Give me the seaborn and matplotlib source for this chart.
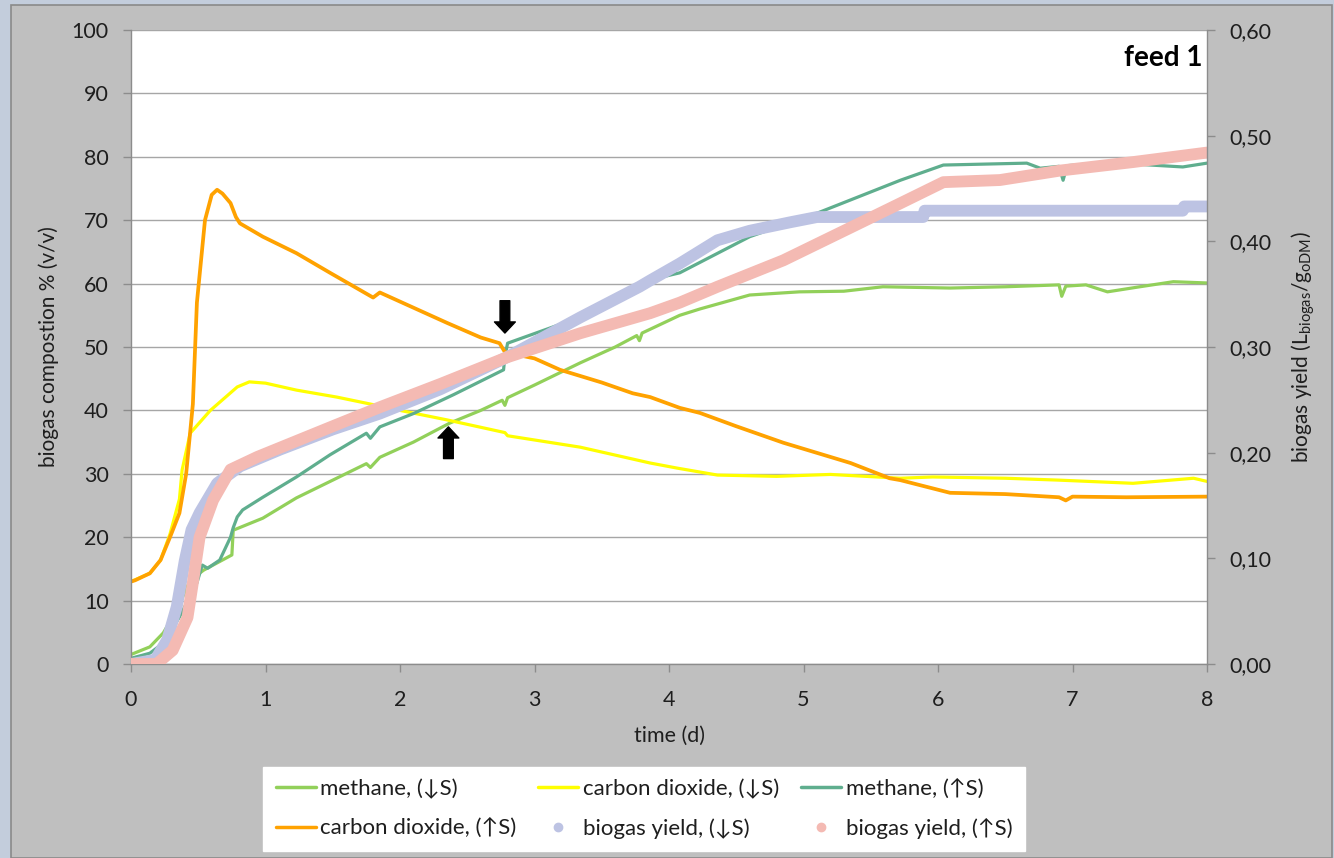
import matplotlib
matplotlib.use("Agg")
import matplotlib.pyplot as plt
from matplotlib.patches import Rectangle
from matplotlib.lines import Line2D
from matplotlib.ticker import FuncFormatter
import seaborn as sns

# ---------------- data ----------------
# methane, low substrate (light green), % v/v
t_ch4_lo = [0, 0.14, 0.24, 0.34, 0.44, 0.54, 0.75, 0.76, 0.98, 1.23, 1.5, 1.75, 1.78, 1.85,
            2.1, 2.37, 2.6, 2.76, 2.78, 2.8, 3.0, 3.34, 3.6, 3.76, 3.78, 3.8, 4.08, 4.23,
            4.6, 4.97, 5.3, 5.59, 6.09, 6.5, 6.9, 6.92, 6.95, 7.1, 7.26, 7.5, 7.75, 8.0]
ch4_lo = [1.5, 2.7, 4.9, 8.5, 13.2, 14.8, 17.2, 21.1, 23.0, 26.2, 29.0, 31.6, 31.0, 32.6,
          35.0, 38.0, 40.0, 41.6, 40.8, 42.0, 44.0, 47.5, 50.0, 51.8, 51.0, 52.2, 55.0, 56.0,
          58.2, 58.7, 58.8, 59.5, 59.3, 59.5, 59.8, 58.0, 59.6, 59.8, 58.7, 59.5, 60.3, 60.1]

# carbon dioxide, low substrate (yellow), % v/v
t_co2_lo = [0, 0.14, 0.22, 0.29, 0.36, 0.38, 0.44, 0.59, 0.79, 0.88, 1.0, 1.23, 1.53, 1.78,
            2.0, 2.35, 2.78, 2.8, 3.34, 3.86, 4.06, 4.36, 4.8, 5.2, 5.72, 5.96, 6.5, 6.9,
            7.45, 7.9, 8.0]
co2_lo = [13.0, 14.3, 16.4, 20.5, 26.0, 30.6, 36.4, 40.0, 43.7, 44.5, 44.3, 43.2, 42.1, 41.0,
          40.0, 38.5, 36.5, 36.0, 34.2, 31.7, 30.9, 29.8, 29.6, 29.9, 29.3, 29.5, 29.3, 29.0,
          28.5, 29.3, 28.8]

# methane, high substrate (teal), % v/v
t_ch4_hi = [0, 0.14, 0.24, 0.36, 0.49, 0.53, 0.57, 0.66, 0.74, 0.76, 0.79, 0.83, 0.98, 1.23,
            1.48, 1.75, 1.78, 1.85, 2.1, 2.4, 2.77, 2.78, 2.8, 3.05, 3.34, 3.78, 3.86, 4.08,
            4.6, 5.1, 5.72, 6.04, 6.66, 6.76, 6.9, 6.93, 6.96, 7.2, 7.5, 7.82, 8.0]
ch4_hi = [0.9, 1.7, 3.3, 7.4, 12.8, 15.6, 15.1, 16.4, 20.0, 21.5, 23.2, 24.3, 26.3, 29.5,
          33.0, 36.4, 35.6, 37.4, 39.5, 42.5, 46.4, 48.5, 50.6, 52.5, 54.7, 59.0, 60.6, 61.7,
          67.4, 71.1, 76.3, 78.7, 79.0, 78.2, 78.5, 76.3, 78.6, 79.0, 78.8, 78.4, 79.0]

# carbon dioxide, high substrate (orange), % v/v
t_co2_hi = [0, 0.03, 0.14, 0.22, 0.29, 0.36, 0.41, 0.46, 0.49, 0.55, 0.6, 0.64, 0.68, 0.74,
            0.78, 0.81, 0.98, 1.23, 1.48, 1.8, 1.85, 2.1, 2.35, 2.6, 2.74, 2.78, 2.82, 3.0,
            3.19, 3.5, 3.73, 3.86, 4.08, 4.23, 4.5, 4.85, 5.35, 5.64, 5.72, 6.09, 6.5, 6.9,
            6.95, 7.0, 7.4, 8.0]
co2_hi = [13.0, 13.2, 14.3, 16.4, 20.0, 23.8, 30.0, 41.0, 57.0, 70.0, 74.0, 74.8, 74.2, 72.7,
          70.5, 69.5, 67.4, 64.8, 61.7, 57.8, 58.6, 56.2, 53.8, 51.5, 50.6, 49.2, 49.0, 48.2,
          46.4, 44.4, 42.7, 42.1, 40.4, 39.6, 37.5, 34.9, 31.7, 29.3, 29.0, 27.0, 26.8, 26.3,
          25.8, 26.4, 26.3, 26.4]

# cumulative biogas yield, L biogas / g oDM
t_yld_lo = [0, 0.18, 0.27, 0.34, 0.40, 0.45, 0.51, 0.64, 0.81, 1.11, 1.5, 1.85, 2.3, 2.79,
            3.34, 3.78, 3.86, 4.08, 4.36, 4.6, 4.9, 5.1, 5.89, 5.9, 7.82, 7.83, 8.0]
yld_lo = [0, 0.004, 0.023, 0.054, 0.098, 0.127, 0.143, 0.171, 0.187, 0.203, 0.222, 0.237,
          0.26, 0.29, 0.328, 0.357, 0.363, 0.379, 0.401, 0.41, 0.418, 0.423, 0.423, 0.429,
          0.429, 0.433, 0.433]

t_yld_hi = [0, 0.19, 0.31, 0.42, 0.46, 0.51, 0.61, 0.74, 0.94, 1.5, 1.85, 2.3, 2.79, 3.34,
            3.86, 4.08, 4.36, 4.85, 5.35, 5.72, 6.04, 6.46, 6.91, 7.45, 8.0]
yld_hi = [0, 0, 0.013, 0.044, 0.077, 0.12, 0.155, 0.184, 0.196, 0.225, 0.243, 0.265, 0.29,
          0.313, 0.332, 0.342, 0.357, 0.382, 0.413, 0.436, 0.456, 0.458, 0.467, 0.475, 0.484]

labels = ["methane, (\u2193S)", "carbon dioxide, (\u2193S)", "methane, (\u2191S)",
          "carbon dioxide, (\u2191S)", "biogas yield, (\u2193S)", "biogas yield, (\u2191S)"]
x_ticks = list(range(0, 9))
y_ticks = list(range(0, 101, 10))
y2_ticks = [0.0, 0.1, 0.2, 0.3, 0.4, 0.5, 0.6]

# ---------------- style ----------------
sns.set_theme(style="white")
plt.rcParams['font.family'] = ['Lato', 'DejaVu Sans']
plt.rcParams['mathtext.fontset'] = 'custom'
plt.rcParams['mathtext.rm'] = 'Lato'
plt.rcParams['mathtext.it'] = 'Lato:italic'

C_CH4_LO = '#92D05A'
C_CO2_LO = '#FFFF00'
C_CH4_HI = '#5FAE8E'
C_CO2_HI = '#FFA200'
C_YLD_LO = '#BDC3E3'
C_YLD_HI = '#F4BAB3'
TXT = '#1E1E1E'
AXC = '#8C8C8C'

W, H = 1334, 858
fig = plt.figure(figsize=(W / 100, H / 100), dpi=100, facecolor='#C3CDDC')
fig.patches.append(Rectangle((11 / W, 0), (1332 - 11) / W, 853 / H, transform=fig.transFigure,
                             facecolor='#BFBFBF', edgecolor='#8A8A8A', lw=1.2, zorder=-5))

ax = fig.add_axes([131 / W, 194 / H, 1076 / W, 634 / H])
ax.set_facecolor('white')
ax2 = ax.twinx()

lw_thin = 2.3
sns.lineplot(x=t_ch4_lo, y=ch4_lo, ax=ax, color=C_CH4_LO, lw=lw_thin, estimator=None, sort=False)
sns.lineplot(x=t_co2_lo, y=co2_lo, ax=ax, color=C_CO2_LO, lw=lw_thin, estimator=None, sort=False)
sns.lineplot(x=t_ch4_hi, y=ch4_hi, ax=ax, color=C_CH4_HI, lw=lw_thin, estimator=None, sort=False)
sns.lineplot(x=t_co2_hi, y=co2_hi, ax=ax, color=C_CO2_HI, lw=2.7, estimator=None, sort=False)

sns.lineplot(x=t_yld_lo, y=yld_lo, ax=ax2, color=C_YLD_LO, lw=8.5, estimator=None, sort=False,
             solid_capstyle='round', solid_joinstyle='round')
sns.lineplot(x=t_yld_hi, y=yld_hi, ax=ax2, color=C_YLD_HI, lw=8.5, estimator=None, sort=False,
             solid_capstyle='round', solid_joinstyle='round')

# axes limits and ticks
ax.set_xlim(0, 8)
ax.set_ylim(0, 100)
ax2.set_ylim(0, 0.6)
ax.set_xticks(x_ticks)
ax.set_yticks(y_ticks)
ax2.set_yticks(y2_ticks)
ax2.yaxis.set_major_formatter(FuncFormatter(lambda v, p: f"{v:.2f}".replace('.', ',')))

ax.grid(axis='y', color='#A6A6A6', lw=1.0)
ax.grid(axis='x', visible=False)
ax.set_axisbelow(True)
ax2.grid(False)

for a in (ax, ax2):
    for s in a.spines.values():
        s.set_visible(False)
ax.spines['left'].set_visible(True)
ax.spines['bottom'].set_visible(True)
ax2.spines['right'].set_visible(True)
for s in (ax.spines['left'], ax.spines['bottom'], ax2.spines['right']):
    s.set_color(AXC)
    s.set_linewidth(1.0)

ax.tick_params(axis='y', left=True, direction='out', length=6, width=1, color=AXC,
               labelsize=15.5, labelcolor=TXT, pad=10)
ax.tick_params(axis='x', bottom=True, direction='out', length=6, width=1, color=AXC,
               labelsize=15.5, labelcolor=TXT, pad=13)
ax2.tick_params(axis='y', right=True, direction='out', length=6, width=1, color=AXC,
                labelsize=15.5, labelcolor=TXT, pad=10)

ax.set_xlabel('time (d)', fontsize=15.5, color=TXT, labelpad=11)
ax.set_ylabel('biogas compostion % (v/v)', fontsize=15, color=TXT, labelpad=9)
ax2.set_ylabel(r'biogas yield (L$_{\rm biogas}$/g$_{\rm oDM}$)', fontsize=15, color=TXT,
               labelpad=13)

ax.text(0.996, 0.956, 'feed 1', transform=ax.transAxes, ha='right', va='center',
        fontsize=20, fontweight='bold', color='black')

# markers for the points of interest
arrow_kw = dict(arrowstyle='simple,head_width=1.5,head_length=0.8,tail_width=0.7',
                fc='black', ec='black', shrinkA=0, shrinkB=0, mutation_scale=10)
ax2.annotate('', xy=(2.78, 52.2), xytext=(2.78, 57.3), xycoords=ax.transData,
             textcoords=ax.transData, arrowprops=arrow_kw, zorder=10)
ax2.annotate('', xy=(2.36, 37.4), xytext=(2.36, 32.4), xycoords=ax.transData,
             textcoords=ax.transData, arrowprops=arrow_kw, zorder=10)

# legend
handles = [
    Line2D([], [], color=C_CH4_LO, lw=2.5),
    Line2D([], [], color=C_CO2_LO, lw=2.5),
    Line2D([], [], color=C_CH4_HI, lw=2.5),
    Line2D([], [], color=C_CO2_HI, lw=2.5),
    Line2D([], [], color=C_YLD_LO, ls='', marker='o', ms=6),
    Line2D([], [], color=C_YLD_HI, ls='', marker='o', ms=6),
]
order = [0, 3, 1, 4, 2, 5]
leg = fig.legend([handles[i] for i in order], [labels[i] for i in order], ncol=3,
                 loc='center', bbox_to_anchor=(644 / W, 1 - 809 / H), frameon=True,
                 fancybox=False, facecolor='white', edgecolor='white', framealpha=1,
                 fontsize=16, handlelength=1.8, handletextpad=0.2, columnspacing=1.0,
                 labelspacing=0.85, borderpad=0.55)
for txt in leg.get_texts():
    txt.set_color(TXT)

fig.savefig('out.png', dpi=100, facecolor=fig.get_facecolor())
